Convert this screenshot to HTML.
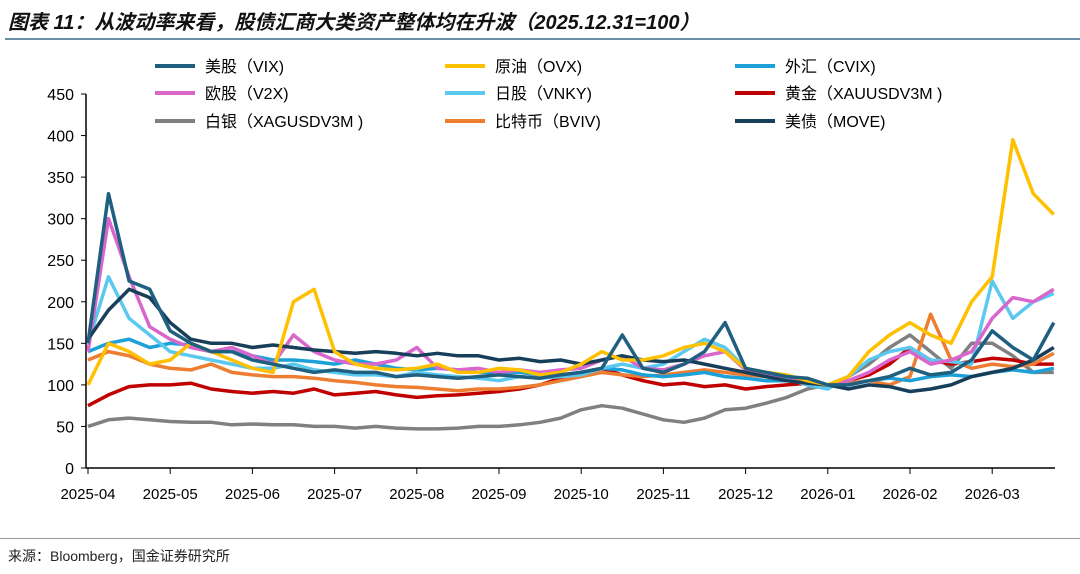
<!DOCTYPE html>
<html><head><meta charset="utf-8">
<style>
body{margin:0;background:#fff;width:1080px;height:574px;overflow:hidden;font-family:"Liberation Sans","Noto Sans CJK SC",sans-serif;}
#title{position:absolute;left:8px;top:6px;font-size:20px;font-weight:bold;font-style:italic;color:#111;}
#src{position:absolute;left:8px;top:546px;font-size:14px;color:#222;}
</style></head><body>
<div id="title">图表 11：从波动率来看，股债汇商大类资产整体均在升波（2025.12.31=100）</div>
<div style="position:absolute;left:5px;top:38px;width:1075px;height:2px;background:#6a8fa8"></div>
<div style="position:absolute;left:0;top:538px;width:1080px;height:1px;background:#999"></div>
<div id="src">来源：Bloomberg，国金证券研究所</div>
<svg id="chart" width="1080" height="574" style="position:absolute;left:0;top:0"></svg>
<script>
const monthLabels=["2025-04","2025-05","2025-06","2025-07","2025-08","2025-09","2025-10","2025-11","2025-12","2026-01","2026-02","2026-03"];
const yTicks=[0,50,100,150,200,250,300,350,400,450];
const seriesNames=["美股（VIX)","原油（OVX)","外汇（CVIX)","欧股（V2X)","日股（VNKY)","黄金（XAUUSDV3M )","白银（XAGUSDV3M )","比特币（BVIV)","美债（MOVE)"];
const seriesColors=["#1f5f80","#ffc000","#1ba0d8","#d966cc","#5bc8f0","#c00000","#808080","#ed7d31","#173f5a"];
const vix=[150,330,225,215,165,150,140,140,130,125,120,115,118,115,115,110,112,110,108,110,112,110,108,112,115,120,160,120,115,125,140,175,120,115,110,108,100,100,105,110,120,112,115,130,165,145,130,175];
const ovx=[100,150,140,125,130,150,140,130,120,115,200,215,140,125,120,118,120,125,115,115,120,118,112,115,125,140,130,130,135,145,150,140,120,115,112,105,100,110,140,160,175,160,150,200,230,395,330,305];
const cvix=[140,150,155,145,150,148,140,140,135,130,130,128,125,130,125,120,118,120,118,115,115,115,112,112,115,120,118,112,110,112,115,110,108,105,105,103,100,100,105,108,105,110,112,110,115,118,115,120];
const v2x=[140,300,230,170,155,145,140,145,135,125,160,140,130,125,125,130,145,120,118,120,115,118,115,118,120,130,135,120,118,125,135,140,118,112,110,105,100,105,115,130,140,125,130,140,180,205,200,215];
const vnky=[150,230,180,160,140,135,130,125,120,120,125,118,115,112,112,110,115,112,110,108,105,110,108,110,112,120,125,120,125,140,155,145,120,112,108,100,95,110,130,140,145,130,128,125,225,180,200,210];
const gold=[75,88,98,100,100,102,95,92,90,92,90,95,88,90,92,88,85,87,88,90,92,95,100,108,115,120,112,105,100,102,98,100,95,98,100,102,100,105,112,125,145,130,125,128,132,130,125,125];
const silver=[50,58,60,58,56,55,55,52,53,52,52,50,50,48,50,48,47,47,48,50,50,52,55,60,70,75,72,65,58,55,60,70,72,78,85,95,100,110,125,145,160,140,120,150,150,135,115,115];
const bviv=[130,140,135,125,120,118,125,115,112,110,110,108,105,103,100,98,97,95,93,95,95,97,100,105,110,115,112,110,112,115,118,115,112,110,108,100,100,102,105,100,110,185,130,120,125,122,125,138];
const move=[155,190,215,205,175,155,150,150,145,148,145,142,140,138,140,138,135,138,135,135,130,132,128,130,125,130,135,130,128,130,125,120,115,110,105,102,100,95,100,98,92,95,100,110,115,120,130,145];
const allSeries=[vix,ovx,cvix,v2x,vnky,gold,silver,bviv,move];
const drawOrder=[6,5,7,2,4,3,8,1,0];

const NS="http://www.w3.org/2000/svg";
const svg=document.getElementById("chart");
const X0=88,MW=82.2,Y0=468,YS=374/450;
function xMonth(m){return X0+m*MW;}
function yVal(v){return Y0-v*YS;}
function mk(tag,attrs){const e=document.createElementNS(NS,tag);for(const k in attrs)e.setAttribute(k,attrs[k]);svg.appendChild(e);return e;}

let ax=mk("line",{x1:86,y1:yVal(450),x2:86,y2:Y0,stroke:"#000","stroke-width":1.5});


let bx=mk("line",{x1:86,y1:Y0,x2:1055,y2:Y0,stroke:"#000","stroke-width":1.5});


yTicks.forEach(v=>{
  const t=mk("line",{x1:81,y1:yVal(v),x2:86,y2:yVal(v),stroke:"#000","stroke-width":1});
  
  
  const l=mk("text",{x:74,y:yVal(v)+6,"text-anchor":"end","font-size":16,fill:"#000"});
  l.textContent=v;
  
  
});
monthLabels.forEach((m,i)=>{
  const x=xMonth(i);
  const t=mk("line",{x1:x,y1:Y0,x2:x,y2:Y0+6,stroke:"#000","stroke-width":1});
  
  
  const l=mk("text",{x:x,y:499,"text-anchor":"middle","font-size":15,fill:"#000"});
  l.textContent=m;
  
  
});
drawOrder.forEach(si=>{
  const d=allSeries[si].map((v,k)=>(k?"L":"M")+xMonth(k/4).toFixed(1)+","+yVal(v).toFixed(1)).join("");
  const p=mk("path",{d:d,fill:"none",stroke:seriesColors[si],"stroke-width":3.5,"stroke-linejoin":"round"});
  
  
});
const colX=[155,445,735],rowY=[66,93,121];
seriesNames.forEach((n,i)=>{
  const cx=colX[i%3],cy=rowY[Math.floor(i/3)];
  const l=mk("line",{x1:cx,y1:cy,x2:cx+40,y2:cy,stroke:seriesColors[i],"stroke-width":4});
  
  
  const t=mk("text",{x:cx+50,y:cy+6,"font-size":16,fill:"#000"});
  t.textContent=n;
  
  
});
</script>
</body></html>
